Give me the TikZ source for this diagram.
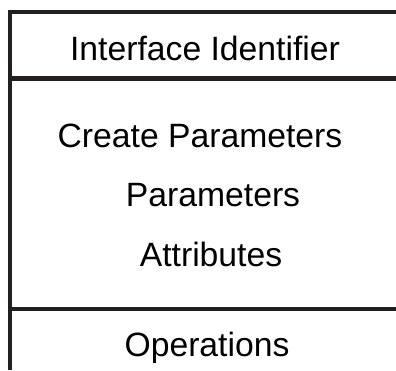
\documentclass[tikz,border=0pt]{standalone}
\usepackage{fontspec}
\setmainfont{Liberation Sans}
\definecolor{ink}{HTML}{231F20}
\begin{document}
\begin{tikzpicture}[x=1pt,y=-1pt,
  label text/.style={anchor=base,inner sep=0pt,text=black,
    font=\fontsize{33.7}{40}\selectfont},
  rule/.style={draw=ink,line width=#1}]
\useasboundingbox (0,0) rectangle (396,370);
% compartment rules of the class box
\draw[rule=4pt] (8,12) -- (396,12);
\draw[rule=5pt] (8,78.5) -- (396,78.5);
\draw[rule=4pt] (8,309) -- (396,309);
\draw[rule=4pt] (10,10) -- (10,370);
% compartment labels
\node[label text] (ident) at (205,60) {Interface Identifier};
\node[label text] (create) at (200,147) {Create Parameters};
\node[label text] (params) at (213,206) {Parameters};
\node[label text] (attrs) at (211,266) {Attributes};
\node[label text] (ops) at (207,356) {Operations};
\end{tikzpicture}
\end{document}
